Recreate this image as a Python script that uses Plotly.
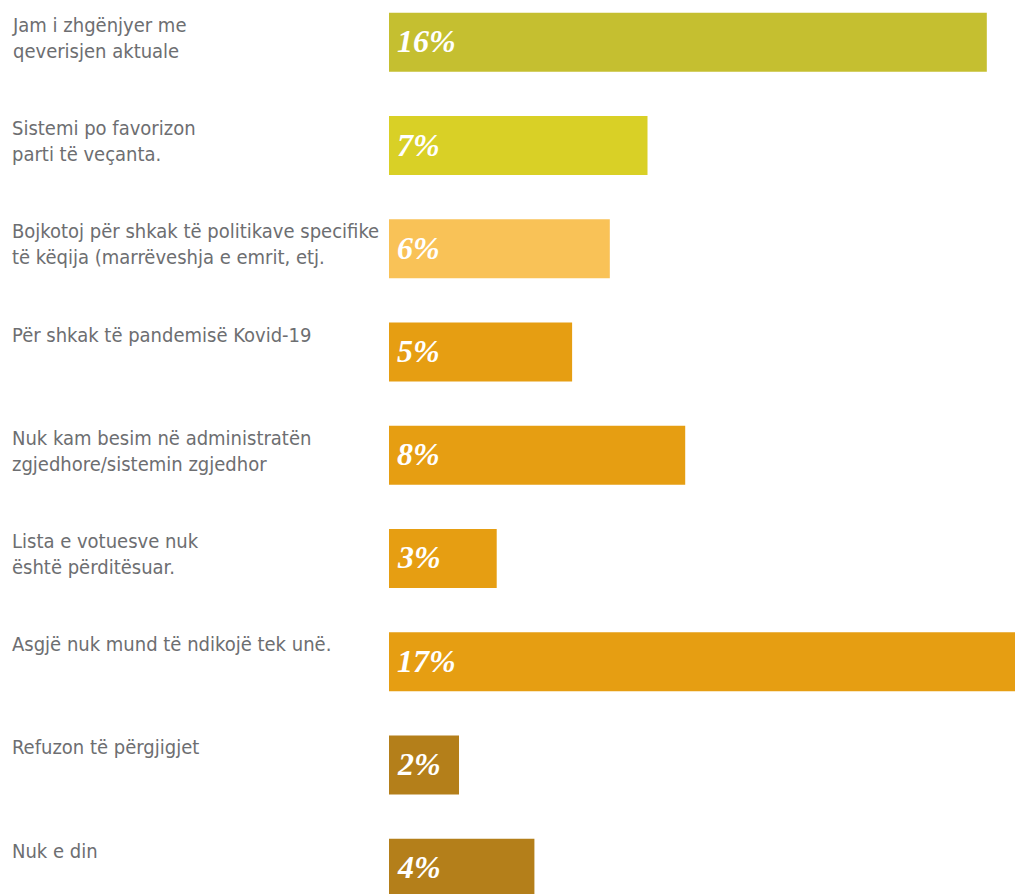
import plotly.graph_objects as go

labels = [
    "Jam i zhgënjyer me<br>qeverisjen aktuale",
    "Sistemi po favorizon<br>parti të veçanta.",
    "Bojkotoj për shkak të politikave specifike<br>të këqija (marrëveshja e emrit, etj.",
    "Për shkak të pandemisë Kovid-19",
    "Nuk kam besim në administratën<br>zgjedhore/sistemin zgjedhor",
    "Lista e votuesve nuk<br>është përditësuar.",
    "Asgjë nuk mund të ndikojë tek unë.",
    "Refuzon të përgjigjet",
    "Nuk e din",
]
values = [16, 7, 6, 5, 8, 3, 17, 2, 4]
colors = ["#C5BF30", "#D9D026", "#F9C257", "#E69E12", "#E69E12",
          "#E69E12", "#E69E12", "#B47F1A", "#B47F1A"]

W, H = 1015, 894
left = 389
plot_w = W - left
bar_w = 0.572

idx = list(range(len(values)))

fig = go.Figure(go.Bar(
    x=values,
    y=idx,
    orientation="h",
    width=bar_w,
    marker=dict(color=colors, line=dict(width=0)),
    hoverinfo="skip",
))

for i, (lab, v) in enumerate(zip(labels, values)):
    fig.add_annotation(
        x=(10 - left) / plot_w, xref="paper",
        y=i - bar_w / 2, yref="y",
        text=lab, showarrow=False,
        xanchor="left", yanchor="top", align="left", yshift=2,
        font=dict(family="DejaVu Sans Condensed, DejaVu Sans, sans-serif",
                  size=20, color="#6D6E71"),
    )
    fig.add_annotation(
        x=0, xref="paper",
        y=i, yref="y",
        text=f"{v}%", showarrow=False,
        xanchor="left", yanchor="middle", xshift=6, yshift=1,
        font=dict(family="Liberation Serif", size=32, color="white",
                  style="italic", weight="bold"),
    )

fig.update_layout(
    width=W, height=H,
    margin=dict(l=left, r=0, t=0, b=0),
    paper_bgcolor="white", plot_bgcolor="white",
    showlegend=False,
    xaxis=dict(range=[0.143, 0.143 + plot_w / 37.7], visible=False, fixedrange=True),
    yaxis=dict(range=[8.25, -0.41], visible=False, fixedrange=True),
)

fig.write_html("out.html", config={"displayModeBar": False},
               post_script="document.body.style.margin='0';document.body.style.overflow='hidden';")
